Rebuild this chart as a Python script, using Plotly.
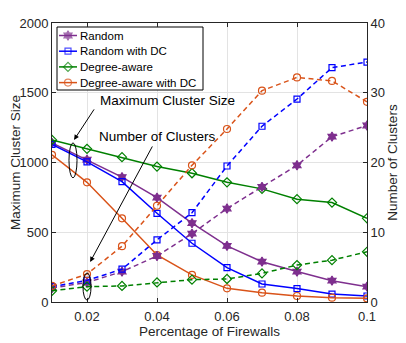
import plotly.graph_objects as go

firewalls = [0.01, 0.02, 0.03, 0.04, 0.05, 0.06, 0.07, 0.08, 0.09, 0.1]

# maximum cluster size (left axis, solid)
size_random = [1140, 1020, 895, 748, 565, 402, 289, 218, 153, 110]
size_random_dc = [1130, 1005, 863, 636, 421, 246, 129, 96, 57, 43]
size_degree = [1162, 1098, 1038, 971, 923, 858, 811, 737, 713, 600]
size_degree_dc = [1055, 858, 600, 337, 194, 98, 67, 43, 31, 26]

# number of clusters (right axis, dashed)
num_random = [2.0, 2.8, 4.35, 6.6, 9.8, 13.4, 16.5, 19.6, 23.7, 25.3]
num_random_dc = [2.2, 3.1, 4.7, 8.9, 12.8, 19.5, 25.2, 29.1, 33.6, 34.4]
num_degree = [1.6, 2.2, 2.3, 2.8, 3.2, 3.3, 4.1, 5.3, 6.0, 7.2]
num_degree_dc = [2.3, 4.0, 8.0, 13.8, 19.6, 24.8, 30.3, 32.2, 31.7, 28.7]

names = ["Random", "Random with DC", "Degree-aware", "Degree-aware with DC"]
colors = ["#7E2F8E", "#0000FF", "#008000", "#D95319"]
symbols = ["hexagram", "square-open", "diamond-open", "circle-open"]
sizes = [7, 6, 7, 7]

fig = go.Figure()

for name, vals, c, s, ms in zip(names, [size_random, size_random_dc, size_degree, size_degree_dc], colors, symbols, sizes):
    fig.add_trace(go.Scatter(x=firewalls, y=vals, name=name, mode="lines+markers", showlegend=False,
                             line=dict(color=c, width=1.5),
                             marker=dict(symbol=s, size=ms, color=c, line=dict(width=1.2, color=c))))

for name, vals, c, s, ms in zip(names, [num_random, num_random_dc, num_degree, num_degree_dc], colors, symbols, sizes):
    fig.add_trace(go.Scatter(x=firewalls, y=vals, name=name, yaxis="y2", mode="lines+markers",
                             showlegend=False,
                             line=dict(color=c, width=1.5, dash="5px,3.5px"),
                             marker=dict(symbol=s, size=ms, color=c, line=dict(width=1.2, color=c))))

# compact legend drawn on a hidden pixel-like axis pair (plotly legend rows are too tall)
fig.add_trace(go.Scatter(x=[57, 203, 203, 57, 57], y=[27, 27, 90, 90, 27], xaxis="x3", yaxis="y3",
                         mode="lines", fill="toself", fillcolor="white", showlegend=False,
                         line=dict(color="black", width=1), hoverinfo="skip"))
for i, (name, c, s, ms) in enumerate(zip(names, colors, symbols, sizes)):
    row_y = 35.5 + i * 15.7
    fig.add_trace(go.Scatter(x=[59, 68, 77], y=[row_y] * 3, xaxis="x3", yaxis="y3",
                             mode="lines+markers", showlegend=False, hoverinfo="skip",
                             line=dict(color=c, width=1.5),
                             marker=dict(symbol=s, size=[0, ms, 0], color=c, line=dict(width=1.2, color=c))))
    fig.add_annotation(x=78, y=row_y, xref="x3", yref="y3", text=name, showarrow=False,
                       xanchor="left", font=dict(size=11.5, color="black"))

# ellipses marking the two groups
fig.add_shape(type="circle", xref="x", yref="y", x0=0.01485, x1=0.01715, y0=890, y1=1141,
              line=dict(color="black", width=1))
fig.add_shape(type="circle", xref="x", yref="y", x0=0.01885, x1=0.02115, y0=14, y1=208,
              line=dict(color="black", width=1))

fig.add_annotation(x=0.0163, y=1162, xref="x", yref="y", ax=21, ay=-32, text="",
                   showarrow=True, arrowhead=2, arrowsize=1, arrowwidth=1, arrowcolor="black")
fig.add_annotation(x=0.0209, y=287, xref="x", yref="y", ax=63, ay=-117, text="",
                   showarrow=True, arrowhead=2, arrowsize=1, arrowwidth=1, arrowcolor="black")
fig.add_annotation(x=0.0231, y=1442, xref="x", yref="y", text="Maximum Cluster Size",
                   showarrow=False, xanchor="left", font=dict(size=13.5, color="black"))
fig.add_annotation(x=0.0229, y=1184, xref="x", yref="y", text="Number of Clusters",
                   showarrow=False, xanchor="left", font=dict(size=13.5, color="black"))

# the page body has an 8px margin, so the figure is shrunk and margins shifted by 8px
fig.update_layout(
    width=398, height=335,
    margin=dict(l=44, r=39, t=15, b=41),
    plot_bgcolor="white", paper_bgcolor="white",
    font=dict(family="Liberation Sans, Arial", size=13, color="#262626"),
    showlegend=False,
    xaxis=dict(range=[0.01, 0.1], tickvals=[0.02, 0.04, 0.06, 0.08, 0.1],
               ticktext=["0.02", "0.04", "0.06", "0.08", "0.1"], automargin=False,
               ticklabelstandoff=2,
               title=dict(text="Percentage of Firewalls", font=dict(size=13.5), standoff=0),
               showgrid=True, gridcolor="#e3e3e3", zeroline=False,
               showline=True, linecolor="#262626", mirror="ticks",
               ticks="inside", ticklen=4, tickcolor="#262626"),
    yaxis=dict(range=[0, 2000], tickvals=[0, 500, 1000, 1500, 2000], automargin=False,
               title=dict(text="Maximum Cluster Size", font=dict(size=13.5), standoff=0),
               showgrid=True, gridcolor="#e3e3e3", zeroline=False,
               showline=True, linecolor="#262626",
               ticks="inside", ticklen=4, tickcolor="#262626"),
    yaxis2=dict(range=[0, 40], tickvals=[0, 10, 20, 30, 40], overlaying="y", side="right",
                automargin=False,
                title=dict(text="Number of Clusters", font=dict(size=13.5), standoff=0),
                showgrid=False, zeroline=False,
                showline=True, linecolor="#262626",
                ticks="inside", ticklen=4, tickcolor="#262626"),
    xaxis3=dict(range=[52, 367], overlaying="x", visible=False, anchor="y3"),
    yaxis3=dict(range=[302, 23], overlaying="y", visible=False, anchor="x3"),
)

fig.write_html("out.html")
